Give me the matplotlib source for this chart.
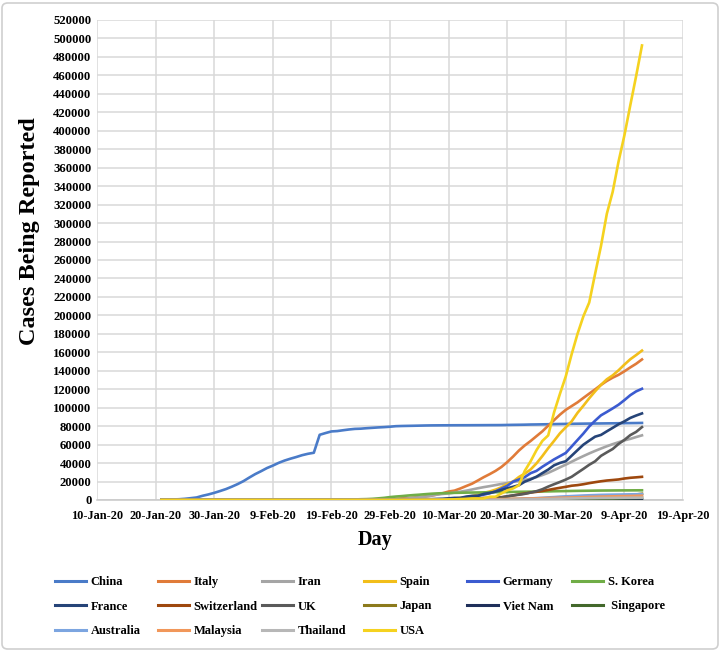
import matplotlib
matplotlib.use('Agg')
import matplotlib.pyplot as plt
import pandas as pd
from matplotlib.patches import FancyBboxPatch
from matplotlib.ticker import FuncFormatter

# ---------------- data (daily, 21-Jan-2020 .. 12-Apr-2020) ----------------
dates = pd.date_range('2020-01-21', '2020-04-12', freq='D')

china = [278, 309, 571, 830, 1297, 1985, 2741, 4537, 5997, 7736, 9720,
         11821, 14411, 17238, 20471, 24363, 28060, 31211, 34598, 37251, 40235,
         42708, 44730, 46550, 48548, 50054, 51174, 70635, 72528, 74280, 74675,
         75569, 76392, 77042, 77262, 77780, 78191, 78630, 78961, 79394,
         79968, 80174, 80304, 80422, 80565, 80711, 80813, 80859, 80904, 80924,
         80955, 80981, 80991, 81021, 81048, 81077, 81116, 81135, 81174, 81300,
         81416, 81498, 81601, 81767, 81848, 81961, 82078, 82230, 82341, 82447, 82545,
         82631, 82724, 82802, 82875, 82930, 83005, 83071, 83157, 83249, 83305, 83369, 83482]
italy = [0, 0, 0, 0, 0, 0, 0, 0, 0, 0, 2,
         2, 2, 2, 2, 2, 2, 3, 3, 3, 3, 3, 3, 3, 3, 3, 3, 3, 3, 3, 3, 3,
         9, 76, 124, 229, 322, 400, 650, 888,
         1128, 1689, 2036, 2502, 3089, 3858, 4636, 5883, 7375, 9172,
         10149, 12462, 15113, 17660, 21157, 24747, 27980, 31506, 35713, 41035,
         47021, 53578, 59138, 63927, 69176, 74386, 80539, 86498, 92472, 97689, 101739,
         105792, 110574, 115242, 119827, 124632, 128948, 132547, 135586, 139422, 143626, 147577, 152271]
iran = [0, 0, 0, 0, 0, 0, 0, 0, 0, 0, 0,
        0, 0, 0, 0, 0, 0, 0, 0, 0, 0, 0, 0, 0, 0, 0, 0, 0, 0, 0,
        2, 5, 18, 28, 43, 61, 95, 141, 245, 388,
        593, 978, 1501, 2336, 2922, 3513, 4747, 5823, 6566, 7161,
        8042, 9000, 10075, 11364, 12729, 13938, 14991, 16169, 17361, 18407,
        19644, 20610, 21638, 23049, 24811, 27017, 29406, 32332, 35408, 38309, 41495,
        44605, 47593, 50468, 53183, 55743, 58226, 60500, 62589, 64586, 66220, 68192, 70029]
spain = [0, 0, 0, 0, 0, 0, 0, 0, 0, 0, 0,
         1, 1, 1, 1, 1, 1, 1, 1, 1, 2, 2, 2, 2, 2, 2, 2, 2, 2, 2,
         2, 2, 2, 2, 2, 2, 6, 13, 15, 32,
         45, 84, 120, 165, 222, 259, 400, 500, 673, 1073,
         1695, 2277, 2950, 4231, 5753, 7753, 9191, 11178, 13716, 17147,
         19980, 24926, 28572, 33089, 39673, 47610, 56188, 64059, 72248, 78797, 85195,
         94417, 102136, 110238, 117710, 124736, 130759, 135032, 140510, 146690, 152446, 157022, 161852]
germany = [0, 0, 0, 0, 0, 0, 0, 1, 4, 4, 5,
           7, 8, 10, 12, 12, 12, 13, 14, 14, 14, 16, 16, 16, 16, 16, 16, 16, 16, 16,
           16, 16, 16, 16, 16, 16, 16, 18, 26, 48,
           79, 130, 159, 196, 262, 482, 670, 799, 1040, 1176,
           1457, 1908, 2078, 3675, 4585, 5795, 7272, 9257, 12327, 15320,
           19848, 22213, 24774, 29056, 31554, 36000, 40000, 44000, 47500, 51000, 58000,
           65000, 72000, 79696, 85903, 91714, 95391, 99225, 103228, 108202, 113525, 117658, 120479]
s_korea = [1, 1, 1, 2, 2, 3, 4, 4, 4, 4, 11,
           12, 15, 15, 16, 19, 23, 24, 24, 25, 27, 28, 28, 28, 28, 28, 29, 30, 31, 51,
           104, 204, 433, 602, 833, 977, 1261, 1766, 2337, 3150,
           3736, 4212, 4812, 5328, 5766, 6284, 6767, 7134, 7382, 7513,
           7755, 7869, 7979, 8086, 8162, 8236, 8320, 8413, 8565, 8652,
           8799, 8897, 8961, 9037, 9137, 9241, 9332, 9478, 9583, 9661, 9786,
           9887, 9976, 10062, 10156, 10237, 10284, 10331, 10384, 10423, 10450, 10480, 10512]
france = [0, 0, 0, 0, 3, 3, 3, 4, 4, 5, 5,
          6, 6, 6, 6, 6, 6, 6, 11, 11, 11, 11, 11, 11, 11, 11, 12, 12, 12, 12,
          12, 12, 12, 12, 12, 12, 17, 38, 57, 100,
          130, 191, 204, 285, 377, 653, 949, 1126, 1209, 1784,
          2281, 2281, 3661, 4469, 4499, 6633, 7652, 9043, 10871, 12612,
          14296, 16018, 19856, 22304, 25233, 29155, 32964, 37575, 40174, 42000, 48000,
          54000, 59929, 64338, 68605, 70478, 74390, 78167, 82048, 85200, 88900, 91500, 93790]
switzerland = [0, 0, 0, 0, 0, 0, 0, 0, 0, 0, 0,
               0, 0, 0, 0, 0, 0, 0, 0, 0, 0, 0, 0, 0, 0, 0, 0, 0, 0, 0,
               0, 0, 0, 0, 1, 1, 1, 8, 10, 10,
               18, 24, 30, 37, 57, 87, 209, 264, 332, 374,
               491, 652, 858, 1125, 1359, 2200, 2200, 2650, 3010, 3888,
               4840, 6077, 7014, 8060, 8836, 9765, 10897, 12104, 13213, 14274, 15475,
               16108, 17070, 18267, 19303, 20278, 21100, 21652, 22253, 23280, 24051, 24551, 25107]
uk = [0, 0, 0, 0, 0, 0, 0, 0, 0, 0, 2,
      2, 2, 2, 2, 2, 3, 3, 3, 3, 8, 8, 8, 9, 9, 9, 9, 9, 9, 9,
      9, 9, 9, 9, 9, 9, 13, 13, 20, 23,
      36, 40, 51, 85, 115, 163, 206, 273, 321, 373,
      456, 590, 797, 1061, 1391, 1543, 1950, 2626, 2689, 3983,
      5018, 5683, 6650, 8077, 9529, 11658, 14543, 17089, 19522, 22141, 25150,
      29474, 33718, 38168, 41903, 47806, 51608, 55242, 60733, 65077, 70272, 73758, 78991]
japan = [1, 1, 1, 1, 3, 3, 4, 6, 7, 11, 14,
         17, 20, 20, 20, 22, 25, 25, 25, 26, 26, 26, 28, 29, 33, 41, 53, 59, 65, 73,
         85, 93, 105, 132, 144, 157, 164, 186, 210, 230,
         239, 254, 268, 284, 317, 349, 408, 455, 488, 514,
         568, 620, 675, 716, 780, 814, 829, 873, 914, 950,
         1007, 1046, 1089, 1128, 1193, 1291, 1387, 1499, 1693, 1866, 1953,
         2178, 2381, 2617, 2935, 3139, 3654, 3906, 4257, 4768, 5347, 6005, 6748]
viet_nam = [0, 0, 0, 2, 2, 2, 2, 2, 2, 2, 5,
            6, 8, 8, 8, 10, 10, 12, 13, 14, 14, 15, 15, 16, 16, 16, 16, 16, 16, 16,
            16, 16, 16, 16, 16, 16, 16, 16, 16, 16,
            16, 16, 16, 16, 16, 16, 18, 21, 30, 31,
            38, 39, 47, 53, 57, 61, 66, 75, 85, 91,
            94, 113, 123, 134, 141, 148, 153, 169, 174, 188, 203,
            212, 218, 233, 237, 240, 241, 245, 249, 251, 255, 257, 258]
singapore = [0, 0, 0, 1, 3, 4, 5, 7, 7, 10, 13,
             16, 18, 18, 24, 28, 30, 33, 40, 43, 45, 47, 50, 58, 67, 72, 75, 77, 81, 84,
             84, 85, 86, 89, 89, 90, 91, 93, 96, 98,
             102, 106, 108, 110, 112, 117, 130, 138, 150, 150,
             160, 178, 178, 200, 212, 226, 243, 266, 313, 345,
             385, 432, 455, 509, 558, 631, 683, 732, 802, 879, 926,
             1000, 1049, 1114, 1189, 1309, 1375, 1481, 1623, 1910, 2000, 2108, 2299]
australia = [0, 0, 0, 0, 0, 4, 5, 5, 6, 9, 9,
             12, 12, 12, 13, 13, 14, 15, 15, 15, 15, 15, 15, 15, 15, 15, 15, 15, 15, 15,
             15, 17, 21, 22, 22, 22, 23, 23, 23, 25,
             27, 30, 39, 52, 55, 60, 63, 76, 91, 107,
             128, 128, 200, 250, 297, 377, 452, 568, 681, 791,
             1071, 1071, 1549, 1682, 2044, 2364, 2810, 3143, 3640, 3966, 4245,
             4559, 4862, 5116, 5330, 5550, 5687, 5797, 5895, 6010, 6108, 6215, 6292]
malaysia = [0, 0, 0, 0, 3, 4, 4, 4, 7, 8, 8,
            8, 8, 8, 10, 12, 12, 12, 16, 16, 18, 18, 18, 19, 19, 22, 22, 22, 22, 22,
            22, 22, 22, 22, 22, 22, 22, 22, 23, 25,
            29, 29, 36, 50, 50, 83, 93, 99, 117, 129,
            149, 149, 197, 238, 428, 566, 673, 790, 900, 1030,
            1183, 1306, 1518, 1624, 1796, 2031, 2161, 2320, 2470, 2626, 2766,
            2908, 3116, 3333, 3483, 3662, 3793, 3963, 4119, 4228, 4346, 4530, 4683]
thailand = [2, 2, 4, 4, 5, 5, 8, 14, 14, 14, 19,
            19, 19, 19, 25, 25, 25, 25, 32, 32, 32, 33, 33, 33, 33, 34, 34, 35, 35, 35,
            35, 35, 35, 35, 35, 37, 40, 40, 41, 42,
            42, 42, 43, 43, 47, 48, 50, 50, 50, 53,
            59, 70, 75, 82, 114, 147, 177, 212, 272, 322,
            411, 599, 721, 827, 934, 1045, 1136, 1245, 1388, 1524, 1651,
            1771, 1875, 1978, 2067, 2169, 2220, 2258, 2369, 2423, 2473, 2518, 2551]
usa = [1, 1, 1, 2, 2, 5, 5, 5, 5, 5, 6,
       7, 8, 11, 11, 11, 11, 12, 12, 12, 12, 13, 13, 14, 15, 15, 15, 15, 15, 15,
       15, 15, 15, 35, 35, 53, 53, 59, 60, 62,
       62, 62, 64, 108, 129, 148, 213, 213, 213, 472,
       696, 987, 1264, 1678, 1678, 1678, 3503, 3536, 7087, 10442,
       12500, 16000, 31573, 42000, 54000, 64000, 70000, 95000, 115000, 134000, 158000,
       180000, 199000, 214000, 245000, 275000, 310000, 333811, 366614, 395030, 427460, 459165, 492416]

countries = ["China", "Italy", "Iran", "Spain", "Germany", "S. Korea",
             "France", "Switzerland", "UK", "Japan", "Viet Nam", " Singapore",
             "Australia", "Malaysia", "Thailand", "USA"]
values = [china, italy, iran, spain, germany, s_korea,
          france, switzerland, uk, japan, viet_nam, singapore,
          australia, malaysia, thailand, usa]
colors = ["#4A7BC8", "#E07B39", "#A5A5A5", "#F2BE1A", "#3B5BD0", "#70AD47",
          "#264478", "#9E480E", "#5A5A5A", "#8C7A1C", "#1F2F5A", "#43682B",
          "#7CA5E0", "#F1975A", "#B7B7B7", "#F5D21F"]

for n, v in zip(countries, values):
    if len(v) != len(dates):
        raise ValueError(f"{n}: {len(v)} values")

# ---------------- figure ----------------
W, H = 721, 651
plt.rcParams['font.family'] = ['Liberation Serif', 'DejaVu Serif']
plt.rcParams['font.weight'] = 'bold'

fig = plt.figure(figsize=(W / 100, H / 100), dpi=100)
ax = fig.add_axes([97 / W, 1 - 500 / H, (683 - 97) / W, 480 / H])

lines = []
for name, vals, col in zip(countries, values, colors):
    ln, = ax.plot(dates, vals, color=col, lw=1.9, label=name,
                  solid_joinstyle='round', zorder=3)
    lines.append(ln)

ax.set_xlim(pd.Timestamp('2020-01-10'), pd.Timestamp('2020-04-19'))
ax.set_ylim(0, 520000)
ax.set_yticks(range(0, 520001, 20000))
ax.set_xticks(pd.date_range('2020-01-10', '2020-04-19', freq='10D'))
ax.xaxis.set_major_formatter(FuncFormatter(
    lambda x, p: (lambda d: f"{d.day}-{d.strftime('%b-%y')}")(
        matplotlib.dates.num2date(x))))
ax.grid(True, color='#d9d9d9', lw=1.1, zorder=0)
for s in ['top', 'right', 'left']:
    ax.spines[s].set_visible(False)
ax.spines['bottom'].set_color('#c8c8c8')
ax.spines['bottom'].set_linewidth(1.1)
ax.tick_params(axis='both', length=0)
ax.tick_params(axis='y', pad=4, labelsize=9.2)
ax.tick_params(axis='x', pad=7, labelsize=8.8)
for lab in ax.get_xticklabels() + ax.get_yticklabels():
    lab.set_fontweight('bold')

fig.text(30 / W, 1 - 231 / H, 'Cases Being Reported', rotation=90,
         ha='center', va='center', fontsize=17.5, fontweight='bold')
fig.text(375 / W, 1 - 540 / H, 'Day', ha='center', va='center',
         fontsize=14.5, fontweight='bold')

# legend: six columns, row-major order
col_x = [55, 158, 262, 364, 467, 572]
for j, x in enumerate(col_x):
    idx = [j, j + 6, j + 12]
    idx = [i for i in idx if i < len(lines)]
    leg = fig.legend([lines[i] for i in idx], [countries[i] for i in idx],
                     loc='upper left', bbox_to_anchor=(x / W, 1 - 576 / H),
                     frameon=False, borderpad=0, borderaxespad=0,
                     handlelength=2.5, handletextpad=0.35, labelspacing=1.0,
                     prop={'family': 'Liberation Serif', 'weight': 'bold', 'size': 9})
    for h in leg.legend_handles:
        h.set_linewidth(2.2)

fig.patches.append(FancyBboxPatch((2 / W, 2 / H), 716 / W, 646 / H,
                                  boxstyle='round,pad=0,rounding_size=0.008',
                                  transform=fig.transFigure, fill=False,
                                  edgecolor='#cfcfcf', lw=1.2))

fig.savefig('out.png', dpi=100)
